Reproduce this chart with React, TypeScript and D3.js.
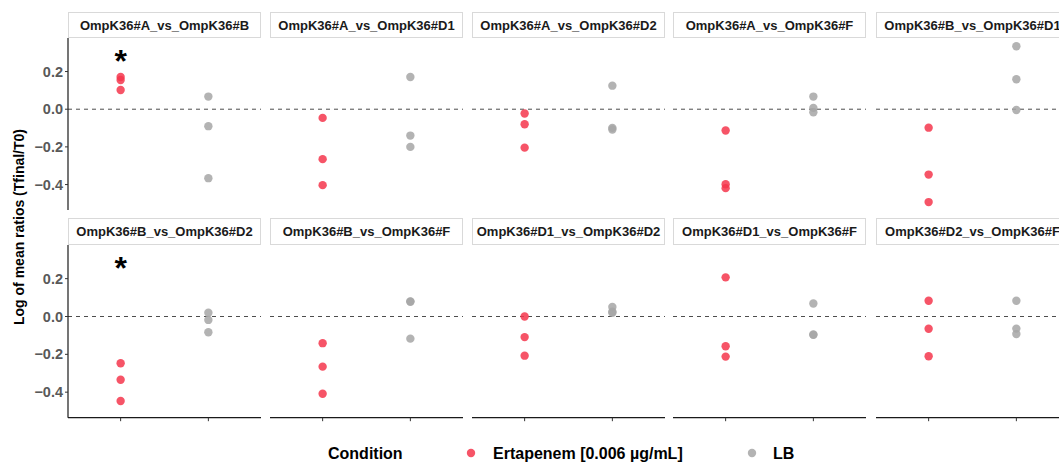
import React from "react";
import * as d3 from "d3";

const panels = [
  "OmpK36#A_vs_OmpK36#B",
  "OmpK36#A_vs_OmpK36#D1",
  "OmpK36#A_vs_OmpK36#D2",
  "OmpK36#A_vs_OmpK36#F",
  "OmpK36#B_vs_OmpK36#D1",
  "OmpK36#B_vs_OmpK36#D2",
  "OmpK36#B_vs_OmpK36#F",
  "OmpK36#D1_vs_OmpK36#D2",
  "OmpK36#D1_vs_OmpK36#F",
  "OmpK36#D2_vs_OmpK36#F",
];
const conditions = ["Ertapenem [0.006 µg/mL]", "LB"];
const ertapenemValues = [
  [0.171, 0.155, 0.102],
  [-0.046, -0.265, -0.403],
  [-0.023, -0.08, -0.204],
  [-0.113, -0.398, -0.419],
  [-0.098, -0.347, -0.493],
  [-0.247, -0.334, -0.447],
  [-0.141, -0.265, -0.408],
  [0.0, -0.109, -0.207],
  [0.207, -0.157, -0.212],
  [0.083, -0.065, -0.21],
];
const lbValues = [
  [0.067, -0.09, -0.366],
  [0.171, -0.14, -0.2],
  [0.125, -0.099, -0.108],
  [0.067, 0.007, -0.016],
  [0.334, 0.159, -0.004],
  [0.02, -0.018, -0.083],
  [0.08, 0.078, -0.117],
  [0.05, 0.02, 0.025],
  [0.069, -0.095, -0.097],
  [0.083, -0.064, -0.093],
];
const significant = [true, false, false, false, false, true, false, false, false, false];
const asteriskValue = 0.27;
const yTicks = [-0.4, -0.2, 0.0, 0.2];
const colors = ["#F5364C", "#A6A6A6"];

const W = 1059;
const H = 462;
const colX = [68, 270, 472, 673, 876];
const panelW = 193;
const rows = [
  { stripTop: 12, top: 38, bottom: 210 },
  { stripTop: 218, top: 245, bottom: 417.7 },
];
const FONT = "'Liberation Sans', Arial, Helvetica, sans-serif";

export default function App() {
  const x = d3.scalePoint<string>().domain(conditions).range([0, panelW]).padding(0.6);
  const fmt = (v: number) => d3.format(".1f")(v).replace("-", "\u2212");
  return (
    <svg width={W} height={H} style={{ position: "absolute", left: 0, top: 0 }} fontFamily={FONT}>
      <rect width={W} height={H} fill="#fff" />
      {panels.map((name, i) => {
        const r = rows[Math.floor(i / 5)];
        const c = i % 5;
        const px = colX[c];
        const y = d3.scaleLinear().domain([-0.535, 0.378]).range([r.bottom, r.top]);
        const isBottom = i >= 5;
        return (
          <g key={name}>
            <rect x={px + 0.5} y={r.stripTop + 0.5} width={panelW - 1} height={r.top - r.stripTop - 1} fill="#fff" stroke="#D9D9D9" strokeWidth={1} />
            <text x={px + panelW / 2} y={(r.stripTop + r.top) / 2} textAnchor="middle" dominantBaseline="central" fontSize={13} fontWeight="bold" fill="#1A1A1A">
              {name}
            </text>
            <line x1={px} x2={px + panelW} y1={y(0)} y2={y(0)} stroke="#4D4D4D" strokeWidth={1} strokeDasharray="4,4" />
            {c === 0 && (
              <g>
                <line x1={px} x2={px} y1={r.top} y2={r.bottom} stroke="#1A1A1A" strokeWidth={1.2} />
                {yTicks.map((t) => (
                  <g key={t}>
                    <line x1={px - 3} x2={px} y1={y(t)} y2={y(t)} stroke="#333" strokeWidth={1} />
                    <text x={px - 5} y={y(t)} textAnchor="end" dominantBaseline="central" fontSize={14.5} fontWeight="bold" fill="#595959">
                      {fmt(t)}
                    </text>
                  </g>
                ))}
              </g>
            )}
            {isBottom && (
              <g>
                <line x1={px} x2={px + panelW} y1={r.bottom} y2={r.bottom} stroke="#1A1A1A" strokeWidth={1.2} />
                {conditions.map((cd) => (
                  <line key={cd} x1={px + (x(cd) as number)} x2={px + (x(cd) as number)} y1={r.bottom} y2={r.bottom + 3.5} stroke="#333" strokeWidth={1} />
                ))}
              </g>
            )}
            {lbValues[i].map((v, k) => (
              <circle key={"lb" + k} cx={px + (x(conditions[1]) as number)} cy={y(v)} r={4.2} fill={colors[1]} fillOpacity={0.85} />
            ))}
            {ertapenemValues[i].map((v, k) => (
              <circle key={"er" + k} cx={px + (x(conditions[0]) as number)} cy={y(v)} r={4.2} fill={colors[0]} fillOpacity={0.85} />
            ))}
            {significant[i] && (
              <text x={px + (x(conditions[0]) as number)} y={y(asteriskValue) + 14} textAnchor="middle" fontSize={32} fontWeight="bold" fill="#000">
                *
              </text>
            )}
          </g>
        );
      })}
      <text transform={`translate(19,227) rotate(-90)`} textAnchor="middle" dominantBaseline="central" fontSize={14} fontWeight="bold" fill="#000">
        Log of mean ratios (Tfinal/T0)
      </text>
      <g>
        <text x={328} y={453} dominantBaseline="central" fontSize={16} fontWeight="bold" fill="#000">Condition</text>
        <circle cx={471} cy={453} r={4.2} fill={colors[0]} fillOpacity={0.85} />
        <text x={493} y={453} dominantBaseline="central" fontSize={16} fontWeight="bold" fill="#000">{conditions[0]}</text>
        <circle cx={752} cy={453} r={4.2} fill={colors[1]} fillOpacity={0.85} />
        <text x={773} y={453} dominantBaseline="central" fontSize={16} fontWeight="bold" fill="#000">{conditions[1]}</text>
      </g>
    </svg>
  );
}
